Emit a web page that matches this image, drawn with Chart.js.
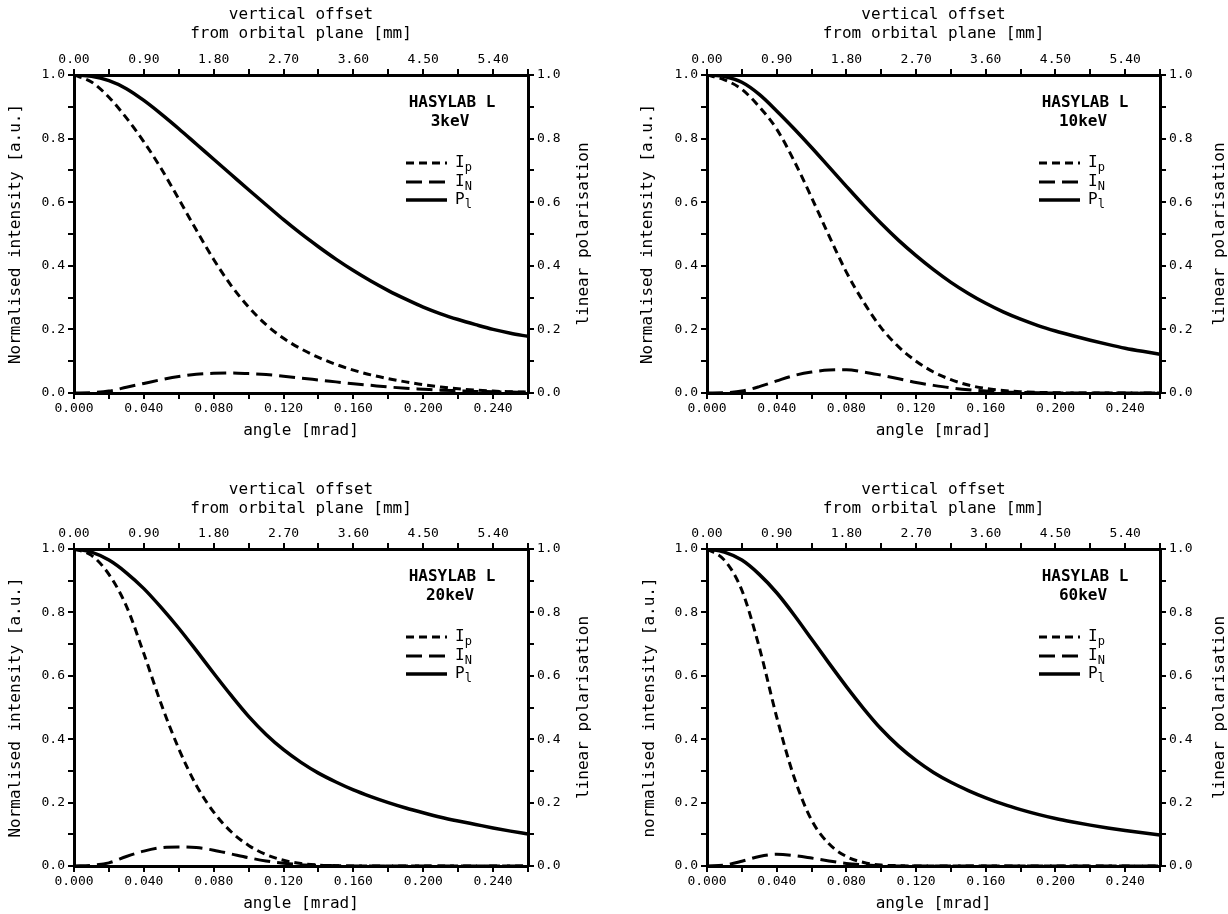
<!DOCTYPE html>
<html><head><meta charset="utf-8">
<script src="https://cdn.jsdelivr.net/npm/chart.js@4.4.0/dist/chart.umd.min.js"></script>
<style>
html,body{margin:0;padding:0;background:#fff;}
#wrap{position:relative;width:1228px;height:914px;overflow:hidden;background:#fff;}
canvas{position:absolute;}
</style></head><body><div id="wrap">
<canvas id="c0"></canvas><canvas id="c1"></canvas><canvas id="c2"></canvas><canvas id="c3"></canvas>
</div>
<script>
// ---- data ----
const angles = [0,0.01,0.02,0.03,0.04,0.05,0.06,0.07,0.08,0.09,0.10,0.11,0.12,0.13,0.14,0.15,0.16,0.17,0.18,0.19,0.20,0.21,0.22,0.23,0.24,0.25,0.26];
const energies = ['3keV','10keV','20keV','60keV'];

const pl_3keV = [1.0,0.996,0.982,0.957,0.92,0.877,0.831,0.783,0.735,0.687,0.639,0.592,0.545,0.501,0.46,0.421,0.385,0.352,0.322,0.295,0.27,0.249,0.231,0.215,0.2,0.188,0.178];
const ip_3keV = [1.0,0.978,0.93,0.865,0.79,0.705,0.61,0.513,0.42,0.338,0.27,0.215,0.172,0.139,0.112,0.09,0.072,0.057,0.045,0.035,0.026,0.019,0.013,0.009,0.006,0.004,0.003];
const in_3keV = [0,0.001,0.006,0.018,0.03,0.042,0.052,0.059,0.062,0.063,0.061,0.058,0.053,0.047,0.041,0.035,0.029,0.024,0.019,0.015,0.012,0.009,0.007,0.005,0.004,0.003,0.002];

const pl_10keV = [1.0,0.995,0.977,0.939,0.887,0.831,0.772,0.711,0.65,0.59,0.533,0.48,0.432,0.388,0.348,0.313,0.282,0.255,0.232,0.212,0.195,0.18,0.166,0.153,0.141,0.131,0.122];
const ip_10keV = [1.0,0.985,0.955,0.90,0.83,0.73,0.615,0.495,0.38,0.285,0.205,0.145,0.10,0.066,0.042,0.025,0.014,0.008,0.004,0.002,0.001,0,0,0,0,0,0];
const in_10keV = [0,0.001,0.006,0.02,0.038,0.055,0.066,0.072,0.073,0.066,0.056,0.045,0.033,0.024,0.016,0.01,0.006,0.003,0.002,0.001,0,0,0,0,0,0,0];

const pl_20keV = [1.0,0.99,0.965,0.925,0.875,0.815,0.75,0.68,0.608,0.538,0.472,0.415,0.367,0.327,0.293,0.265,0.24,0.219,0.2,0.183,0.168,0.154,0.142,0.131,0.12,0.11,0.101];
const ip_20keV = [1.0,0.98,0.92,0.82,0.67,0.51,0.37,0.255,0.17,0.108,0.065,0.036,0.018,0.008,0.003,0.001,0,0,0,0,0,0,0,0,0,0,0];
const in_20keV = [0,0.002,0.01,0.03,0.047,0.058,0.06,0.058,0.05,0.038,0.026,0.016,0.009,0.004,0.002,0.001,0,0,0,0,0,0,0,0,0,0,0];

const pl_60keV = [1.0,0.99,0.965,0.92,0.862,0.792,0.716,0.64,0.566,0.496,0.432,0.378,0.333,0.295,0.264,0.238,0.215,0.195,0.178,0.163,0.15,0.139,0.129,0.12,0.112,0.105,0.098];
const ip_60keV = [1.0,0.965,0.87,0.69,0.47,0.28,0.145,0.07,0.03,0.011,0.003,0.001,0,0,0,0,0,0,0,0,0,0,0,0,0,0,0];
const in_60keV = [0,0.003,0.015,0.03,0.037,0.033,0.025,0.016,0.008,0.004,0.001,0,0,0,0,0,0,0,0,0,0,0,0,0,0,0,0];

const bottomTickLabels = ['0.000','0.040','0.080','0.120','0.160','0.200','0.240'];
const topTickLabels = ['0.00','0.90','1.80','2.70','3.60','4.50','5.40'];
const yTickLabels = ['0.0','0.2','0.4','0.6','0.8','1.0'];
const xTitle = 'angle [mrad]';
const topTitle = ['vertical offset','from orbital plane [mm]'];
const leftTitles = ['Normalised intensity [a.u.]','Normalised intensity [a.u.]','Normalised intensity [a.u.]','normalised intensity [a.u.]'];
const rightTitle = 'linear polarisation';
const annotationTitle = 'HASYLAB L';
const seriesNames = [['I','p'],['I','N'],['P','l']];
const angleMax = 0.26;
const offsetMax = 5.85; // mm at angleMax

const seriesData = [
  [ip_3keV, in_3keV, pl_3keV],
  [ip_10keV, in_10keV, pl_10keV],
  [ip_20keV, in_20keV, pl_20keV],
  [ip_60keV, in_60keV, pl_60keV]
];

// ---- layout ----
const MONO = "'DejaVu Sans Mono', 'Liberation Mono', monospace";
const panels = [
  {id:'c0', left:0,   top:0,   w:614, h:450, L:74, R:86, T:75, B:57, ltPad:6,  rtOff:56, ttPad:5,  btPad:10},
  {id:'c1', left:614, top:0,   w:614, h:450, L:93, R:68, T:75, B:57, ltPad:24, rtOff:60, ttPad:5,  btPad:10},
  {id:'c2', left:0,   top:457, w:614, h:457, L:74, R:86, T:92, B:48, ltPad:6,  rtOff:56, ttPad:23, btPad:1},
  {id:'c3', left:614, top:457, w:614, h:457, L:93, R:68, T:92, B:48, ltPad:26, rtOff:60, ttPad:23, btPad:1}
];
const dashes = [[8,5],[16,7],[]];
const widths = [3,3,3.5];

const overlayPlugin = {
  id:'overlay',
  afterDraw(chart, args, opts) {
    const ctx = chart.ctx, a = chart.chartArea;
    ctx.save();
    ctx.fillStyle = '#000';
    // right axis title, reading bottom-to-top
    ctx.save();
    ctx.translate(a.right + opts.rtOff, (a.top + a.bottom) / 2);
    ctx.rotate(-Math.PI / 2);
    ctx.font = '16px ' + MONO;
    ctx.textAlign = 'center'; ctx.textBaseline = 'middle';
    ctx.fillText(rightTitle, 0, 0);
    ctx.restore();
    // annotation
    ctx.font = 'bold 16px ' + MONO;
    ctx.textAlign = 'center'; ctx.textBaseline = 'middle';
    ctx.fillText(annotationTitle, a.left + 378, a.top + 28);
    ctx.fillText(opts.energy, a.left + 376, a.top + 47);
    // legend
    const rows = [88, 107, 125];
    for (let i = 0; i < 3; i++) {
      const y = a.top + rows[i];
      ctx.save();
      ctx.strokeStyle = '#000';
      ctx.lineWidth = widths[i];
      ctx.setLineDash(dashes[i]);
      ctx.beginPath();
      ctx.moveTo(a.left + 332, y);
      ctx.lineTo(a.left + 373, y);
      ctx.stroke();
      ctx.restore();
      ctx.textAlign = 'left'; ctx.textBaseline = 'alphabetic';
      ctx.font = '16px ' + MONO;
      const x0 = a.left + 381;
      ctx.fillText(seriesNames[i][0], x0, y + 4);
      const w0 = ctx.measureText(seriesNames[i][0]).width;
      ctx.font = '12px ' + MONO;
      ctx.fillText(seriesNames[i][1], x0 + w0, y + 8);
    }
    ctx.restore();
  }
};

function gridCfg() {
  return {drawOnChartArea:false, drawTicks:true, tickLength:6, color:'#000', lineWidth:2};
}
const borderCfg = {display:true, color:'#000', width:3};
const tickFont = {family: MONO, size: 13};
const titleFont = {family: MONO, size: 16, lineHeight: 1.2};

function bottomLabel(v) {
  const k = Math.round(v / 0.02);
  return (k % 2 === 0 && bottomTickLabels[k/2] !== undefined) ? bottomTickLabels[k/2] : '';
}
function topLabel(v) {
  const k = Math.round(v / 0.45);
  return (k % 2 === 0 && topTickLabels[k/2] !== undefined) ? topTickLabels[k/2] : '';
}
function yLabel(v) {
  const k = Math.round(v / 0.1);
  return (k % 2 === 0 && yTickLabels[k/2] !== undefined) ? yTickLabels[k/2] : '';
}

panels.forEach((p, idx) => {
  const cv = document.getElementById(p.id);
  cv.width = p.w; cv.height = p.h;
  cv.style.left = p.left + 'px'; cv.style.top = p.top + 'px';
  cv.style.width = p.w + 'px'; cv.style.height = p.h + 'px';
  const ds = seriesData[idx].map((arr, i) => ({
    label: seriesNames[i].join(''),
    data: angles.map((x, j) => ({x: x, y: arr[j]})),
    xAxisID: 'x',
    yAxisID: i === 2 ? 'y2' : 'y',
    borderColor: '#000',
    borderWidth: widths[i],
    borderDash: dashes[i],
    pointRadius: 0,
    fill: false,
    cubicInterpolationMode: 'monotone',
    tension: 0.4
  }));
  new Chart(cv, {
    type: 'line',
    data: {datasets: ds},
    options: {
      responsive: false, animation: false, devicePixelRatio: 1,
      layout: {padding: 0},
      plugins: {legend: {display: false}, tooltip: {enabled: false},
        overlay: {energy: energies[idx], rtOff: p.rtOff}},
      scales: {
        x: {type:'linear', position:'bottom', min:0, max:angleMax, border:borderCfg, grid:gridCfg(),
          ticks:{stepSize:0.02, autoSkip:false, maxRotation:0, padding:2, color:'#000', font:tickFont, callback:bottomLabel},
          title:{display:true, text:xTitle, color:'#000', font:titleFont, padding:{top:0, bottom:p.btPad}},
          afterFit: s => { s.height = p.B; }},
        xTop: {type:'linear', position:'top', min:0, max:offsetMax, border:borderCfg, grid:gridCfg(),
          ticks:{stepSize:0.45, autoSkip:false, maxRotation:0, padding:2, color:'#000', font:tickFont, callback:topLabel},
          title:{display:true, text:topTitle, color:'#000', font:titleFont, padding:{top:p.ttPad, bottom:0}},
          afterFit: s => { s.height = p.T; }},
        y: {type:'linear', position:'left', min:0, max:1, border:borderCfg, grid:gridCfg(),
          ticks:{stepSize:0.1, autoSkip:false, padding:3, color:'#000', font:tickFont, callback:yLabel},
          title:{display:true, text:leftTitles[idx], color:'#000', font:titleFont, padding:{top:p.ltPad, bottom:0}},
          afterFit: s => { s.width = p.L; }},
        y2: {type:'linear', position:'right', min:0, max:1, border:borderCfg, grid:gridCfg(),
          ticks:{stepSize:0.1, autoSkip:false, padding:3, color:'#000', font:tickFont, callback:yLabel},
          afterFit: s => { s.width = p.R; }}
      }
    },
    plugins: [overlayPlugin]
  });
});
</script>
</body></html>
